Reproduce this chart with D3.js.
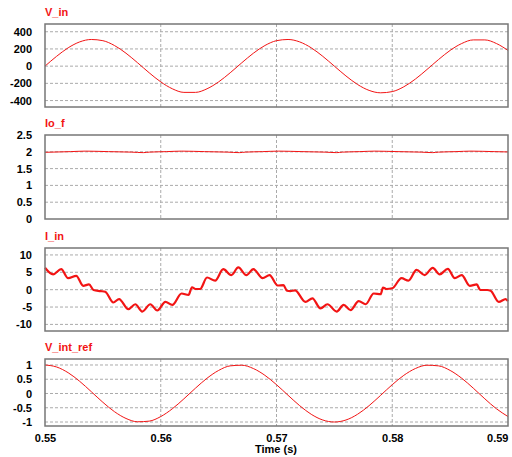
<!DOCTYPE html>
<html>
<head>
<meta charset="utf-8">
<script src="https://cdnjs.cloudflare.com/ajax/libs/d3/7.8.5/d3.min.js"></script>
<style>
  body { margin: 0; background: #fff; }
  svg { font-family: "Liberation Sans", Arial, sans-serif; }
</style>
</head>
<body>
<svg id="chart" width="512" height="457"></svg>
<script>
// time samples (s), 1 ms step
var timeMs = d3.range(0, 41).map(function(k) { return 0.55 + k * 0.001; });

var vIn = [0, 114, 213, 282, 310, 296, 240, 150, 39, -77, -183, -263, -305, -305, -263, -183, -77,
    39, 150, 240, 296, 310, 282, 213, 114, 0, -114, -213, -282, -310, -296, -240, -150, -39,
    77, 183, 263, 305, 305, 263, 183];

var vIntRef = [1, 0.930, 0.729, 0.426, 0.063, -0.309, -0.637, -0.876, -0.992, -0.969, -0.809,
    -0.536, -0.187, 0.187, 0.536, 0.809, 0.969, 0.992, 0.876, 0.637, 0.309, -0.063, -0.426,
    -0.729, -0.930, -1, -0.930, -0.729, -0.426, -0.063, 0.309, 0.637, 0.876, 0.992, 0.969,
    0.809, 0.536, 0.187, -0.187, -0.536, -0.809];

var ioTime = [0.55, 0.5522, 0.5535, 0.5555, 0.5575, 0.5585, 0.559, 0.5605, 0.5618, 0.5638, 0.5658,
    0.5668, 0.5673, 0.5688, 0.5702, 0.5722, 0.5742, 0.5752, 0.5757, 0.5772, 0.5785, 0.5805,
    0.5825, 0.5835, 0.584, 0.5855, 0.5868, 0.5888, 0.59];
var ioF = [1.985, 2.005, 2.02, 2.005, 1.99, 1.975, 1.99, 2.005, 2.02, 2.005, 1.99, 1.975, 1.99,
    2.005, 2.02, 2.005, 1.99, 1.975, 1.99, 2.005, 2.02, 2.005, 1.99, 1.975, 1.99, 2.005, 2.02,
    2.005, 1.995];

var iinTime = [0.5500, 0.5507, 0.5514, 0.5520, 0.5527, 0.5533, 0.5538, 0.5542, 0.5548, 0.5552,
    0.5559, 0.5564, 0.5572, 0.5578, 0.5584, 0.5591, 0.5597, 0.5604, 0.5610, 0.5618, 0.5624,
    0.5627, 0.5630, 0.5634, 0.5640, 0.5647, 0.5654, 0.5661, 0.5667, 0.5674, 0.5680, 0.5688,
    0.5694, 0.5701, 0.5706, 0.5709, 0.5712, 0.5716, 0.5725, 0.5731, 0.5738, 0.5744, 0.5752,
    0.5758, 0.5764, 0.5771, 0.5777, 0.5784, 0.5790, 0.5792, 0.5795, 0.5800, 0.5808, 0.5814,
    0.5821, 0.5828, 0.5835, 0.5841, 0.5848, 0.5854, 0.5860, 0.5867, 0.5873, 0.5876, 0.5882,
    0.5885, 0.5892, 0.5898, 0.5900];
var iIn = [6.3, 4.4, 5.9, 3.3, 4.0, 1.1, 1.5, -0.1, -0.4, -0.6, -3.7, -2.7, -5.6, -4.2, -6.3,
    -4.2, -6.0, -3.5, -4.4, -1.1, -1.5, 0.7, 0.2, 0.2, 3.5, 2.6, 5.9, 4.2, 6.4, 4.2, 5.9, 3.3,
    4.2, 1.2, 1.3, -0.3, -0.4, -0.2, -3.5, -2.5, -5.4, -4.2, -6.3, -4.4, -5.9, -3.3, -4.2,
    -1.1, -1.3, 0.6, 0.2, 0.4, 3.3, 2.6, 5.7, 4.2, 6.3, 4.4, 6.0, 3.3, 4.2, 1.1, 1.5, -0.1,
    -0.1, -0.3, -3.5, -2.7, -3.3];

var xTicks = [0.55, 0.56, 0.57, 0.58, 0.59];
var vInTicks = [400, 200, 0, -200, -400];
var ioTicks = [2.5, 2, 1.5, 1, 0.5, 0];
var iInTicks = [10, 5, 0, -5, -10];
var vRefTicks = [1, 0.5, 0, -0.5, -1];

var panels = [
    { title: 'V_in', t: timeMs, v: vIn, ticks: vInTicks, top: 24, bottom: 107, domain: [-475, 490], width: 1 },
    { title: 'Io_f', t: ioTime, v: ioF, ticks: ioTicks, top: 135, bottom: 219, domain: [0, 2.5], width: 1 },
    { title: 'I_in', t: iinTime, v: iIn, ticks: iInTicks, top: 248, bottom: 331, domain: [-11.9, 12], width: 2.2 },
    { title: 'V_int_ref', t: timeMs, v: vIntRef, ticks: vRefTicks, top: 359, bottom: 426, domain: [-1.14, 1.21], width: 1 }
];

var left = 45, right = 508;
var red = '#f21414';

var svg = d3.select('#chart');
var x = d3.scaleLinear().domain([0.55, 0.59]).range([left, right]);

panels.forEach(function(p) {
    var y = d3.scaleLinear().domain(p.domain).range([p.bottom, p.top]);
    var g = svg.append('g');

    // grid
    g.selectAll('line.hgrid')
        .data(p.ticks.filter(function(d) { return y(d) > p.top + 1 && y(d) < p.bottom - 1; }))
        .enter().append('line')
        .attr('x1', left).attr('x2', right)
        .attr('y1', function(d) { return y(d); })
        .attr('y2', function(d) { return y(d); })
        .attr('stroke', '#aaa')
        .attr('stroke-dasharray', '3,2');

    g.selectAll('line.vgrid')
        .data(xTicks.slice(1, -1))
        .enter().append('line')
        .attr('x1', function(d) { return x(d); })
        .attr('x2', function(d) { return x(d); })
        .attr('y1', p.top).attr('y2', p.bottom)
        .attr('stroke', '#aaa')
        .attr('stroke-dasharray', '3,2');

    // y axis labels
    var yAxis = d3.axisLeft(y).tickValues(p.ticks).tickSize(0).tickPadding(13)
        .tickFormat(function(d) { return String(d); });
    g.append('g')
        .attr('transform', 'translate(' + left + ',0)')
        .call(yAxis)
        .call(function(s) { s.select('.domain').remove(); })
        .selectAll('text')
        .style('font-size', '11px')
        .style('font-weight', 'bold')
        .attr('fill', '#000');

    // trace
    var line = d3.line()
        .x(function(d, i) { return x(p.t[i]); })
        .y(function(d) { return y(d); })
        .curve(d3.curveMonotoneX);

    g.append('path')
        .datum(p.v)
        .attr('d', line)
        .attr('fill', 'none')
        .attr('stroke', red)
        .attr('stroke-width', p.width)
        .attr('stroke-linejoin', 'round');

    // frame
    g.append('rect')
        .attr('x', left).attr('y', p.top)
        .attr('width', right - left).attr('height', p.bottom - p.top)
        .attr('fill', 'none')
        .attr('stroke', '#777')
        .attr('stroke-width', 1.5);

    g.append('text')
        .attr('x', left)
        .attr('y', p.top - 8)
        .text(p.title)
        .attr('fill', red)
        .style('font-size', '11px')
        .style('font-weight', 'bold');
});

// time axis labels
var xAxis = d3.axisBottom(x).tickValues(xTicks).tickSize(0).tickPadding(8).tickFormat(d3.format('.2f'));
svg.append('g')
    .attr('transform', 'translate(0,426)')
    .call(xAxis)
    .call(function(s) { s.select('.domain').remove(); })
    .selectAll('text')
    .style('font-size', '11px')
    .style('font-weight', 'bold')
    .attr('fill', '#000')
    .attr('text-anchor', function(d, i) { return i === xTicks.length - 1 ? 'end' : 'middle'; });

svg.append('text')
    .attr('x', 276)
    .attr('y', 453)
    .attr('text-anchor', 'middle')
    .text('Time (s)')
    .style('font-size', '11px')
    .style('font-weight', 'bold');
</script>
</body>
</html>
